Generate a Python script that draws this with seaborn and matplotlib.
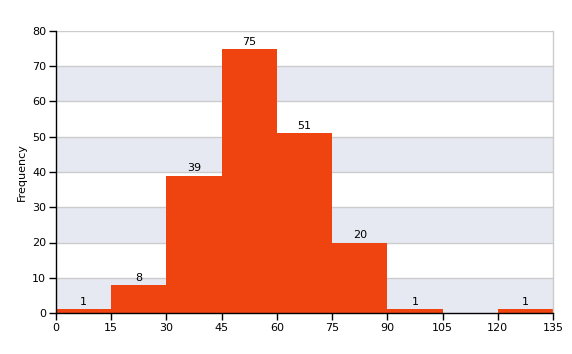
import matplotlib
matplotlib.use("Agg")
import matplotlib.pyplot as plt
import seaborn as sns
import numpy as np

bin_edges = [0, 15, 30, 45, 60, 75, 90, 105, 120, 135]
counts = [1, 8, 39, 75, 51, 20, 1, 0, 1]
y_ticks = [0, 10, 20, 30, 40, 50, 60, 70, 80]

sns.set_style("white")
plt.rcParams['font.family'] = ['DejaVu Sans']

fig = plt.figure(figsize=(5.72, 3.54), dpi=100)
ax = fig.add_axes([56/572, 1-313/354, (553-56)/572, (313-31)/354])

# alternating bands
for i in range(len(y_ticks) - 1):
    if i % 2 == 0:
        ax.axhspan(y_ticks[i], y_ticks[i+1], color="#E6E9F2", zorder=0, lw=0)
for t in y_ticks[1:]:
    ax.axhline(t, color="#CCCCCC", lw=1, zorder=0.5)

centers = [(a + b) / 2 for a, b in zip(bin_edges[:-1], bin_edges[1:])]
sns.histplot(x=centers, weights=counts, bins=bin_edges, ax=ax,
             color="#F04410", alpha=1, edgecolor="none", linewidth=0, zorder=2)

for c, v in zip(centers, counts):
    if v > 0:
        ax.text(c, v + 0.6, str(v), ha="center", va="bottom", fontsize=8, color="black", zorder=3)

ax.set_xlim(0, 135)
ax.set_ylim(0, 80)
ax.set_xticks(bin_edges)
ax.set_yticks(y_ticks)
ax.tick_params(axis="both", labelsize=8, length=5, width=1, color="black",
               labelcolor="black", direction="out", pad=2)
ax.tick_params(axis="both", bottom=True, left=True)
ax.set_ylabel("Frequency", fontsize=8, color="black")
ax.set_xlabel("")

for s in ["left", "bottom"]:
    ax.spines[s].set_color("black")
    ax.spines[s].set_linewidth(1)
ax.spines["top"].set_visible(False)
ax.spines["right"].set_color("#CCCCCC")
ax.spines["right"].set_linewidth(1)
for s in ax.spines.values():
    s.set_zorder(4)

fig.savefig("out.png", dpi=100)
